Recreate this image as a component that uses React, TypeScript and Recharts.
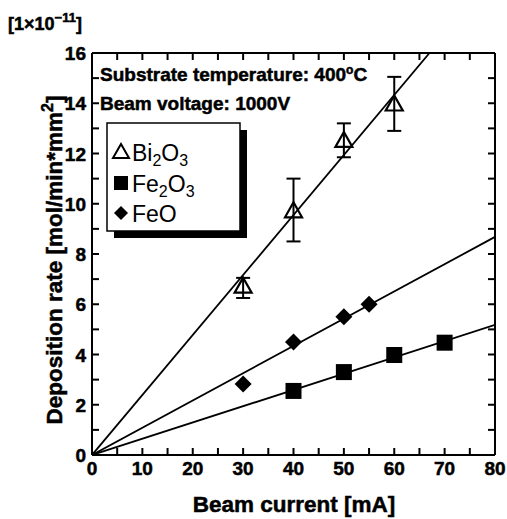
import React from 'react';
import { ComposedChart, Scatter, XAxis, YAxis, ErrorBar, Customized } from 'recharts';

const FONT = '"Liberation Sans", Arial, Helvetica, sans-serif';

// Axis ticks (minor + labelled)
const currentTicks = [0, 5, 10, 15, 20, 25, 30, 35, 40, 45, 50, 55, 60, 65, 70, 75, 80];
const currentLabels = [0, 10, 20, 30, 40, 50, 60, 70, 80];
const rateTicks = [0, 1, 2, 3, 4, 5, 6, 7, 8, 9, 10, 11, 12, 13, 14, 15, 16];
const rateLabels = [0, 2, 4, 6, 8, 10, 12, 14, 16];

// Measured deposition rates [1e-11 mol/min*mm^2]; err = [below, above]
const bi2o3 = [
  { current: 30, rate: 6.7, err: [0.45, 0.35] },
  { current: 40, rate: 9.7, err: [1.2, 1.3] },
  { current: 50, rate: 12.5, err: [0.65, 0.7] },
  { current: 60, rate: 13.95, err: [1.05, 1.1] },
];
const fe2o3 = [
  { current: 40, rate: 2.55 },
  { current: 50, rate: 3.3 },
  { current: 60, rate: 3.98 },
  { current: 70, rate: 4.47 },
];
const feo = [
  { current: 30, rate: 2.83 },
  { current: 40, rate: 4.5 },
  { current: 50, rate: 5.5 },
  { current: 55, rate: 6.0 },
];

// Linear fits through the origin
const bi2o3Fit = [{ current: 0, rate: 0 }, { current: 67, rate: 16 }];
const fe2o3Fit = [{ current: 0, rate: 0 }, { current: 80, rate: 5.18 }];
const feoFit = [{ current: 0, rate: 0 }, { current: 80, rate: 8.68 }];

const TICK_LEN = 7;
const INK = '#000';
const HEAVY = { stroke: INK, strokeWidth: 0.5 };

const Triangle = ({ cx, cy }: any) => (
  <polygon
    points={`${cx},${cy - 9} ${cx - 8.5},${cy + 6} ${cx + 8.5},${cy + 6}`}
    fill="none"
    stroke={INK}
    strokeWidth={2.2}
  />
);
const Square = ({ cx, cy }: any) => <rect x={cx - 8} y={cy - 8} width={16} height={16} fill={INK} />;
const Diamond = ({ cx, cy }: any) => (
  <polygon points={`${cx},${cy - 8.5} ${cx + 8.5},${cy} ${cx},${cy + 8.5} ${cx - 8.5},${cy}`} fill={INK} />
);
const NoDot = () => <g />;

const BottomTick = ({ x, y, payload }: any) => (
  <g>
    <line x1={x} y1={y} x2={x} y2={y - TICK_LEN} stroke={INK} strokeWidth={2} />
    {currentLabels.includes(payload.value) && (
      <text x={x} y={y + 20} textAnchor="middle" fontFamily={FONT} fontWeight="bold" fontSize={19} fill={INK} {...HEAVY}>
        {payload.value}
      </text>
    )}
  </g>
);
const TopTick = ({ x, y }: any) => (
  <line x1={x} y1={y} x2={x} y2={y + TICK_LEN} stroke={INK} strokeWidth={2} />
);
const LeftTick = ({ x, y, payload }: any) => (
  <g>
    <line x1={x} y1={y} x2={x + TICK_LEN} y2={y} stroke={INK} strokeWidth={2} />
    {rateLabels.includes(payload.value) && (
      <text x={x - 6} y={y + 7} textAnchor="end" fontFamily={FONT} fontWeight="bold" fontSize={19} fill={INK} {...HEAVY}>
        {payload.value}
      </text>
    )}
  </g>
);
const RightTick = ({ x, y }: any) => (
  <line x1={x} y1={y} x2={x - TICK_LEN} y2={y} stroke={INK} strokeWidth={2} />
);

const Decorations = () => (
  <g fontFamily={FONT} fill={INK}>
    <text x={8} y={30} fontSize={18} fontWeight="bold" {...HEAVY}>
      [1×10<tspan dy={-8} fontSize={13}>−11</tspan>
      <tspan dy={8}>]</tspan>
    </text>
    <text
      transform="translate(62,260) rotate(-90)"
      textAnchor="middle"
      fontSize={22.5}
      fontWeight="bold"
      {...HEAVY}
    >
      Deposition rate [mol/min*mm<tspan dy={-9} fontSize={16}>2</tspan>
      <tspan dy={9}>]</tspan>
    </text>
    <text x={294} y={512} textAnchor="middle" fontSize={22.5} fontWeight="bold" {...HEAVY}>
      Beam current [mA]
    </text>
    <text x={100} y={81} fontSize={19} fontWeight="bold" {...HEAVY}>
      Substrate temperature: 400<tspan dy={-7} fontSize={12}>o</tspan>
      <tspan dy={7}>C</tspan>
    </text>
    <text x={100} y={110} fontSize={19} fontWeight="bold" {...HEAVY}>
      Beam voltage: 1000V
    </text>
    {/* legend panel with drop shadow */}
    <rect x={114} y={130} width={133} height={108} fill={INK} />
    <rect x={107} y={123} width={133} height={108} fill="#fff" stroke={INK} strokeWidth={1.5} />
    <polygon points="121,144 113,158 129,158" fill="none" stroke={INK} strokeWidth={2} />
    <text x={132} y={161} fontSize={23}>
      Bi<tspan dy={5} fontSize={16}>2</tspan>
      <tspan dy={-5}>O</tspan>
      <tspan dy={5} fontSize={16}>3</tspan>
    </text>
    <rect x={114} y={176} width={14} height={14} fill={INK} />
    <text x={132} y={192} fontSize={23}>
      Fe<tspan dy={5} fontSize={16}>2</tspan>
      <tspan dy={-5}>O</tspan>
      <tspan dy={5} fontSize={16}>3</tspan>
    </text>
    <polygon points="121,206 128,213 121,220 114,213" fill={INK} />
    <text x={132} y={222} fontSize={23}>
      FeO
    </text>
  </g>
);

export default function App() {
  return (
    <div style={{ position: 'absolute', left: 0, top: 0, width: 507, height: 519, background: '#fff' }}>
      <ComposedChart width={507} height={519} margin={{ top: 0, right: 0, bottom: 0, left: 0 }}>
        <XAxis
          dataKey="current"
          type="number"
          domain={[0, 80]}
          ticks={currentTicks}
          interval={0}
          allowDataOverflow
          height={64}
          axisLine={{ stroke: INK, strokeWidth: 2 }}
          tickLine={false}
          tickSize={0}
          tickMargin={0}
          tick={<BottomTick />}
        />
        <XAxis
          xAxisId="top"
          orientation="top"
          dataKey="current"
          type="number"
          domain={[0, 80]}
          ticks={currentTicks}
          interval={0}
          allowDataOverflow
          height={53}
          axisLine={{ stroke: INK, strokeWidth: 2 }}
          tickLine={false}
          tickSize={0}
          tickMargin={0}
          tick={<TopTick />}
        />
        <YAxis
          dataKey="rate"
          type="number"
          domain={[0, 16]}
          ticks={rateTicks}
          interval={0}
          allowDataOverflow
          width={92}
          axisLine={{ stroke: INK, strokeWidth: 2 }}
          tickLine={false}
          tickSize={0}
          tickMargin={0}
          tick={<LeftTick />}
        />
        <YAxis
          yAxisId="right"
          orientation="right"
          dataKey="rate"
          type="number"
          domain={[0, 16]}
          ticks={rateTicks}
          interval={0}
          allowDataOverflow
          width={12}
          axisLine={{ stroke: INK, strokeWidth: 2 }}
          tickLine={false}
          tickSize={0}
          tickMargin={0}
          tick={<RightTick />}
        />
        <Scatter data={bi2o3Fit} dataKey="rate" line={{ stroke: INK, strokeWidth: 1.8 }} shape={<NoDot />} isAnimationActive={false} />
        <Scatter data={feoFit} dataKey="rate" line={{ stroke: INK, strokeWidth: 1.8 }} shape={<NoDot />} isAnimationActive={false} />
        <Scatter data={fe2o3Fit} dataKey="rate" line={{ stroke: INK, strokeWidth: 1.8 }} shape={<NoDot />} isAnimationActive={false} />
        <Scatter data={bi2o3} dataKey="rate" shape={<Triangle />} isAnimationActive={false}>
          <ErrorBar dataKey="err" direction="y" width={7} stroke={INK} strokeWidth={2} />
        </Scatter>
        <Scatter data={fe2o3} dataKey="rate" shape={<Square />} isAnimationActive={false} />
        <Scatter data={feo} dataKey="rate" shape={<Diamond />} isAnimationActive={false} />
        <Customized component={<Decorations />} />
      </ComposedChart>
    </div>
  );
}
